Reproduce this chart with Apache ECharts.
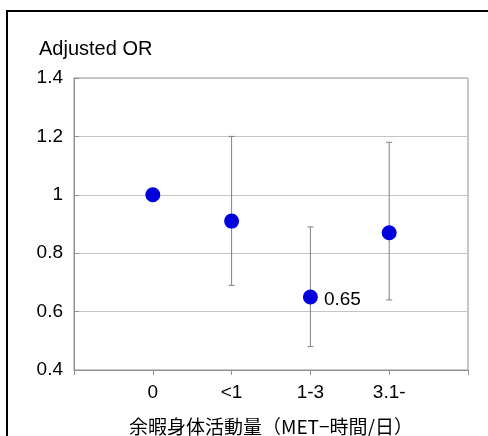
<!DOCTYPE html>
<html><head><meta charset="utf-8">
<script src="https://cdn.jsdelivr.net/npm/echarts@6/dist/echarts.min.js"></script>
<style>html,body{margin:0;padding:0;background:#fff}#c{width:488px;height:436px}</style>
</head><body><div id="c"></div>
<script>
const categories = ['', '0', '<1', '1-3', '3.1-', ''];
const pointCats = ['0', '<1', '1-3', '3.1-'];
const orValues = [1.0, 0.91, 0.65, 0.87];
const lowerCI = [null, 0.69, 0.48, 0.64];
const upperCI = [null, 1.2, 0.89, 1.18];
const yTicks = [0.4, 0.6, 0.8, 1.0, 1.2, 1.4];
const labelText = ['', '', '0.65', ''];

const font = '"Liberation Sans", Arial, sans-serif';
const chart = echarts.init(document.getElementById('c'), null, {renderer: 'canvas'});

const errData = pointCats.map((c, i) => [c, lowerCI[i], upperCI[i]]).filter(d => d[1] != null);
const ptData = pointCats.map((c, i) => ({value: [c, orValues[i]], label: {show: !!labelText[i], formatter: labelText[i]}}));

chart.setOption({
  animation: false,
  graphic: [{
    type: 'rect', shape: {x: 7, y: 11, width: 500, height: 450},
    style: {fill: 'none', stroke: '#000', lineWidth: 2}, z: -1
  }, {
    type: 'text', left: 39, top: 39,
    style: {text: 'Adjusted OR', font: '20px ' + font, fill: '#000'}
  }],
  grid: {left: 74, right: 20, top: 78, bottom: 66, show: true, borderColor: '#909090', borderWidth: 1,
    containLabel: false, outerBoundsMode: 'none'},
  xAxis: {
    type: 'category', data: categories, boundaryGap: false,
    axisLine: {lineStyle: {color: '#909090'}},
    axisTick: {show: true, length: 5, lineStyle: {color: '#909090'}},
    axisLabel: {color: '#000', fontSize: 19, fontFamily: font, margin: 13, interval: 0},
    name: '余暇身体活動量（MET−時間/日）', nameLocation: 'middle', nameGap: 47,
    nameTextStyle: {color: '#000', fontSize: 19, fontFamily: '"Noto Sans CJK JP", sans-serif'}
  },
  yAxis: {
    type: 'value', min: yTicks[0], max: yTicks[yTicks.length - 1], interval: 0.2,
    axisLine: {show: true, lineStyle: {color: '#909090'}},
    axisTick: {show: true, inside: true, length: 5, lineStyle: {color: '#909090'}},
    splitLine: {lineStyle: {color: '#c4c4c4'}},
    axisLabel: {color: '#000', fontSize: 19, fontFamily: font, margin: 11,
      formatter: v => String(Math.round(v * 10) / 10)}
  },
  series: [{
    type: 'custom',
    data: errData,
    renderItem: function (params, api) {
      const x = api.value(0);
      const lo = api.coord([x, api.value(1)]);
      const hi = api.coord([x, api.value(2)]);
      const hw = 3;
      const st = {stroke: '#808080', lineWidth: 1};
      return {type: 'group', children: [
        {type: 'line', shape: {x1: lo[0], y1: lo[1], x2: hi[0], y2: hi[1]}, style: st},
        {type: 'line', shape: {x1: lo[0] - hw, y1: lo[1], x2: lo[0] + hw, y2: lo[1]}, style: st},
        {type: 'line', shape: {x1: hi[0] - hw, y1: hi[1], x2: hi[0] + hw, y2: hi[1]}, style: st}
      ]};
    },
    z: 2
  }, {
    type: 'scatter',
    data: ptData,
    symbolSize: 15,
    itemStyle: {color: '#0000DD', opacity: 1},
    label: {position: 'right', distance: 6, color: '#000', fontSize: 19, fontFamily: font, offset: [0, 3]},
    z: 3
  }]
});
</script></body></html>
